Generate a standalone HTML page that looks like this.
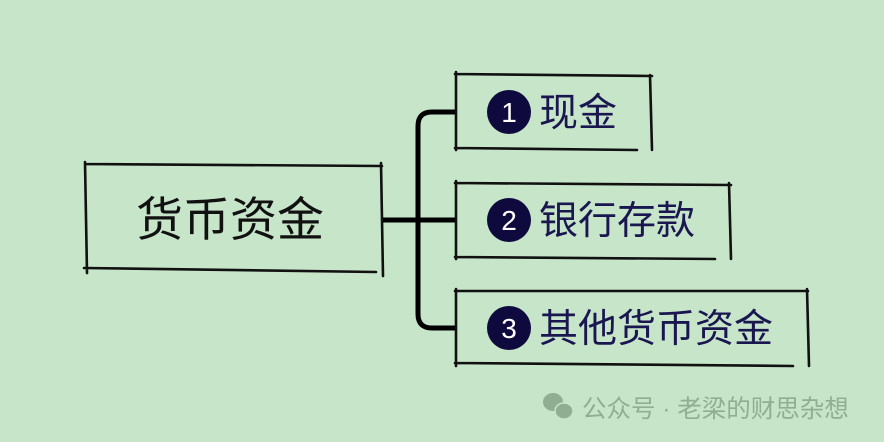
<!DOCTYPE html>
<html><head><meta charset="utf-8"><style>
html,body{margin:0;padding:0;background:#c7e5c9;}
svg{display:block}
text{font-family:"Liberation Sans","Noto Sans CJK SC",sans-serif;}
</style></head><body>
<svg width="884" height="442" viewBox="0 0 884 442">
<rect width="884" height="442" fill="#c7e5c9"/>
<g fill="none" stroke="#111" stroke-width="2.6" stroke-linecap="round">
<path d="M86 164 L382 166 M85 162 L87 273 M84 268 L376 272 M381 163 L383 276"/>
<path d="M455 74 L652 76 M456 72 L456 150 M455 148 L637 150 M650 75 L652 150"/>
<path d="M455 183 L731 185 M456 181 L456 259 M455 257 L715 259 M729 183 L731 259"/>
<path d="M455 291 L808 291 M456 289 L456 366 M455 363 L793 366 M807 289 L809 366"/>
</g>
<g fill="none" stroke="#000" stroke-width="5">
<path d="M383 220 L455 220"/>
<path d="M455 112 L432 112 Q418 112 418 126 L418 314 Q418 328 432 328 L455 328"/>
</g>
<text x="230" y="236" font-size="47" text-anchor="middle" fill="#111">货币资金</text>
<g fill="#0f0a3e"><circle cx="509" cy="112" r="22"/><circle cx="509" cy="220" r="22"/><circle cx="509" cy="328" r="22"/></g>
<g fill="#fff" font-size="28" text-anchor="middle"><text x="509" y="122">1</text><text x="509" y="230">2</text><text x="509" y="338">3</text></g>
<g fill="#1a1650" font-size="39"><text x="539" y="126">现金</text><text x="539" y="234">银行存款</text><text x="539" y="342">其他货币资金</text></g>
<g fill="#8fae92"><ellipse cx="553" cy="402" rx="10" ry="9"/><ellipse cx="564" cy="411" rx="9" ry="8" stroke="#c7e5c9" stroke-width="1.5"/></g>
<text x="582" y="417" font-size="24.5" fill="#8fae92">公众号 · 老梁的财思杂想</text>
</svg>
</body></html>
